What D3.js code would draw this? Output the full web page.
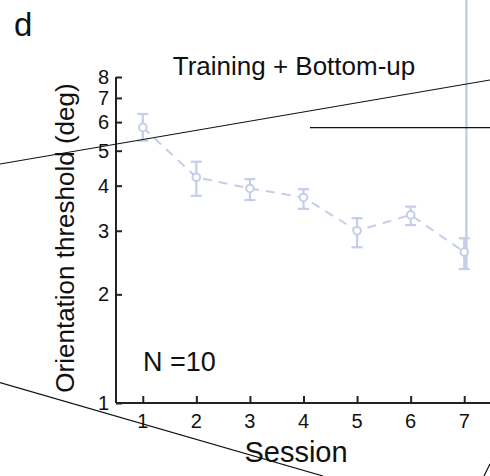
<!DOCTYPE html>
<html>
<head>
<meta charset="utf-8">
<script src="https://cdn.jsdelivr.net/npm/d3@7"></script>
<style>
  body { margin: 0; background: #fff; }
  svg { display: block; }
  text { font-family: "Liberation Sans", Arial, sans-serif; fill: #111; }
</style>
</head>
<body>
<script>
// sessions and thresholds (deg)
var sessions = [1, 2, 3, 4, 5, 6, 7];
var threshold = [5.80, 4.22, 3.93, 3.71, 3.00, 3.32, 2.62];
var errLow = [5.33, 3.75, 3.65, 3.45, 2.70, 3.11, 2.35];
var errHigh = [6.32, 4.66, 4.17, 3.91, 3.25, 3.50, 2.86];
var yTicks = [1, 2, 3, 4, 5, 6, 7, 8];
// stray error bar from the neighbouring panel (runs off the top)
var strayBar = { session: 7.04, low: 2.35, high: 40 };
// stray black strokes left over from the cropped figure
var overlayLines = [
  [0, 164, 490, 80],
  [310, 127.7, 490, 127.7],
  [0, 382.7, 323, 476],
  [484, 476, 490, 464]
];

var W = 490, H = 476;
var col = "#c4cee9";

var svg = d3.select("body").append("svg").attr("width", W).attr("height", H);

var x = d3.scaleLinear().domain([0.5, 7.5]).range([116, 491]);
var y = d3.scaleLog().domain([1, 8]).range([403, 77]);

// axes (lines from d3.axis, labels drawn below)
var xAxis = svg.append("g").attr("transform", "translate(0,403)")
  .call(d3.axisBottom(x).tickValues(sessions).tickSize(-7).tickFormat(""));
var yAxis = svg.append("g").attr("transform", "translate(116,0)")
  .call(d3.axisLeft(y).tickValues(yTicks).tickSize(-6).tickFormat(""));
[xAxis, yAxis].forEach(function (a) {
  a.select(".domain").attr("stroke", "#222").attr("stroke-width", 2);
  a.selectAll(".tick line").attr("stroke", "#222").attr("stroke-width", 2);
  a.selectAll(".tick text").remove();
});
xAxis.select(".domain").attr("d", "M116,0H491");
yAxis.select(".domain").attr("d", "M0,77V403");

svg.selectAll(".xl").data(sessions).enter().append("text")
  .attr("class", "xl")
  .attr("x", function (d) { return x(d); }).attr("y", 428)
  .attr("text-anchor", "middle").attr("font-size", 20)
  .text(function (d) { return d; });
svg.selectAll(".yl").data(yTicks).enter().append("text")
  .attr("class", "yl")
  .attr("x", 109).attr("y", function (d) { return y(d) + 7; })
  .attr("text-anchor", "end").attr("font-size", 20)
  .text(function (d) { return d; });

// stray vertical bar
svg.append("line")
  .attr("x1", x(strayBar.session)).attr("x2", x(strayBar.session))
  .attr("y1", Math.max(0, y(strayBar.high))).attr("y2", y(strayBar.low))
  .attr("stroke", col).attr("stroke-width", 2.5);

// dashed line
svg.append("path")
  .datum(sessions)
  .attr("fill", "none").attr("stroke", col).attr("stroke-width", 2)
  .attr("stroke-dasharray", "9,7")
  .attr("d", d3.line().x(function (d) { return x(d); })
    .y(function (d, i) { return y(threshold[i]); }));

// error bars
var eb = svg.append("g").attr("stroke", col).attr("stroke-width", 2.2);
sessions.forEach(function (s, i) {
  var cx = x(s);
  eb.append("line").attr("x1", cx).attr("x2", cx).attr("y1", y(errLow[i])).attr("y2", y(errHigh[i]));
  eb.append("line").attr("x1", cx - 5.5).attr("x2", cx + 5.5).attr("y1", y(errLow[i])).attr("y2", y(errLow[i]));
  eb.append("line").attr("x1", cx - 5.5).attr("x2", cx + 5.5).attr("y1", y(errHigh[i])).attr("y2", y(errHigh[i]));
});

// markers
svg.selectAll(".pt").data(sessions).enter().append("circle")
  .attr("class", "pt")
  .attr("cx", function (d) { return x(d); })
  .attr("cy", function (d, i) { return y(threshold[i]); })
  .attr("r", 3.8).attr("fill", "#fff").attr("stroke", col).attr("stroke-width", 2);

// overlay strokes
svg.selectAll(".ov").data(overlayLines).enter().append("line")
  .attr("class", "ov")
  .attr("x1", function (d) { return d[0]; }).attr("y1", function (d) { return d[1]; })
  .attr("x2", function (d) { return d[2]; }).attr("y2", function (d) { return d[3]; })
  .attr("stroke", "#111").attr("stroke-width", 1.2);

// texts
svg.append("text").attr("x", 14).attr("y", 36).attr("font-size", 33).text("d");
svg.append("text").attr("x", 294).attr("y", 75).attr("text-anchor", "middle")
  .attr("font-size", 26).text("Training + Bottom-up");
svg.append("text").attr("x", 143).attr("y", 371).attr("font-size", 27).text("N =10");
svg.append("text").attr("x", 296).attr("y", 462).attr("text-anchor", "middle")
  .attr("font-size", 29).text("Session");
svg.append("text").attr("transform", "translate(74,238) rotate(-90)")
  .attr("text-anchor", "middle").attr("font-size", 26).text("Orientation threshold (deg)");
</script>
</body>
</html>
